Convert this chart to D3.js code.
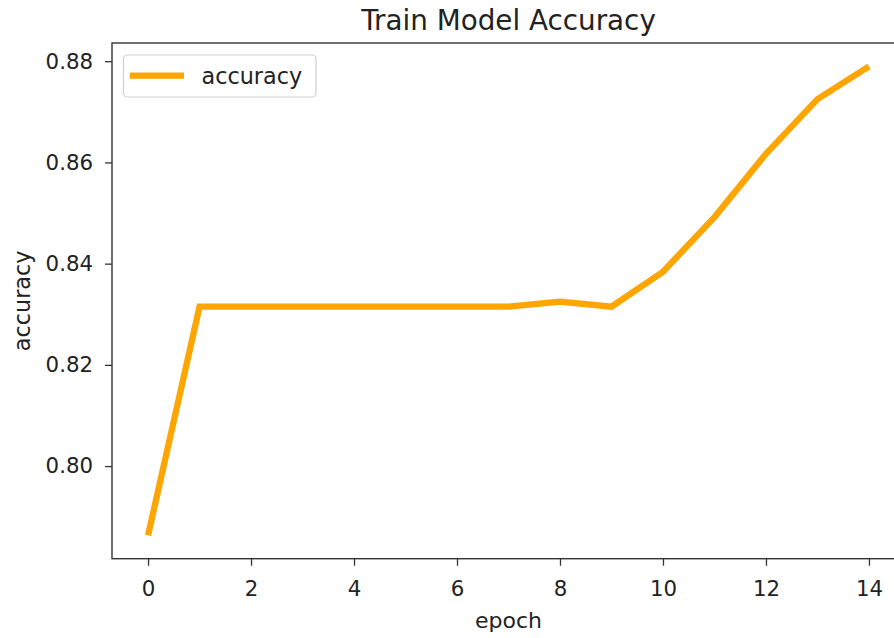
<!DOCTYPE html>
<html>
<head>
<meta charset="utf-8">
<script src="https://cdn.jsdelivr.net/npm/d3@7"></script>
<style>
  html, body { margin: 0; padding: 0; background: #fff; }
  svg { display: block; font-family: "DejaVu Sans", sans-serif; }
</style>
</head>
<body>
<svg id="chart" width="894" height="638"></svg>
<script>
const epochs = [0, 1, 2, 3, 4, 5, 6, 7, 8, 9, 10, 11, 12, 13, 14];
const accuracy = [0.7863, 0.8315, 0.8315, 0.8315, 0.8315, 0.8315, 0.8315, 0.8315, 0.8325, 0.8315, 0.8384, 0.8492, 0.8617, 0.8725, 0.8790];
const xTicks = [0, 2, 4, 6, 8, 10, 12, 14];
const yTicks = [0.80, 0.82, 0.84, 0.86, 0.88];
const titleText = "Train Model Accuracy";
const xLabel = "epoch";
const yLabel = "accuracy";
const seriesName = "accuracy";

const svg = d3.select("#chart");
const pLeft = 112, pRight = 905, pTop = 43, pBottom = 558.7;
const textColor = "#222";

const x = d3.scaleLinear().domain([-0.7, 14.7]).range([pLeft, pRight]);
const y = d3.scaleLinear().domain([0.7817, 0.8836]).range([pBottom, pTop]);

// line
const line = d3.line().x((d, i) => x(epochs[i])).y(d => y(d));
svg.append("path")
  .datum(accuracy)
  .attr("fill", "none")
  .attr("stroke", "#FFA500")
  .attr("stroke-width", 6.3)
  .attr("stroke-linejoin", "miter")
  .attr("d", line);

// axes
const xAxis = d3.axisBottom(x).tickValues(xTicks).tickFormat(d3.format("d")).tickSizeOuter(0).tickSize(7).tickPadding(15);
const yAxis = d3.axisLeft(y).tickValues(yTicks).tickFormat(d3.format(".2f")).tickSizeOuter(0).tickSize(7).tickPadding(12);

const gx = svg.append("g").attr("transform", `translate(0,${pBottom})`).call(xAxis);
const gy = svg.append("g").attr("transform", `translate(${pLeft},0)`).call(yAxis);
[gx, gy].forEach(g => {
  g.select(".domain").remove();
  g.selectAll(".tick line").attr("stroke", "#333").attr("stroke-width", 1.3);
  g.selectAll(".tick text").attr("fill", textColor).style("font-size", "21.3px").style("font-family", "DejaVu Sans, sans-serif");
});

// spines
svg.append("rect")
  .attr("x", pLeft).attr("y", pTop)
  .attr("width", pRight - pLeft).attr("height", pBottom - pTop)
  .attr("fill", "none").attr("stroke", "#333").attr("stroke-width", 1.4);

// title
svg.append("text")
  .attr("x", (pLeft + pRight) / 2).attr("y", 30)
  .attr("text-anchor", "middle")
  .attr("fill", textColor)
  .style("font-size", "27.8px")
  .text(titleText);

// axis labels
svg.append("text")
  .attr("x", (pLeft + pRight) / 2).attr("y", 628)
  .attr("text-anchor", "middle")
  .attr("fill", textColor)
  .style("font-size", "22px")
  .text(xLabel);

svg.append("text")
  .attr("transform", `translate(29.5,${(pTop + pBottom) / 2}) rotate(-90)`)
  .attr("text-anchor", "middle")
  .attr("fill", textColor)
  .style("font-size", "22.3px")
  .text(yLabel);

// legend
const lg = svg.append("g");
lg.append("rect")
  .attr("x", 123.5).attr("y", 55)
  .attr("width", 192.5).attr("height", 42)
  .attr("rx", 4).attr("ry", 4)
  .attr("fill", "#fff").attr("fill-opacity", 0.8)
  .attr("stroke", "#d0d0d0").attr("stroke-width", 1.2);
lg.append("line")
  .attr("x1", 130).attr("x2", 184)
  .attr("y1", 75.7).attr("y2", 75.7)
  .attr("stroke", "#FFA500").attr("stroke-width", 6.3);
lg.append("text")
  .attr("x", 201.5).attr("y", 83.5)
  .attr("fill", textColor)
  .style("font-size", "22.3px")
  .text(seriesName);
</script>
</body>
</html>
